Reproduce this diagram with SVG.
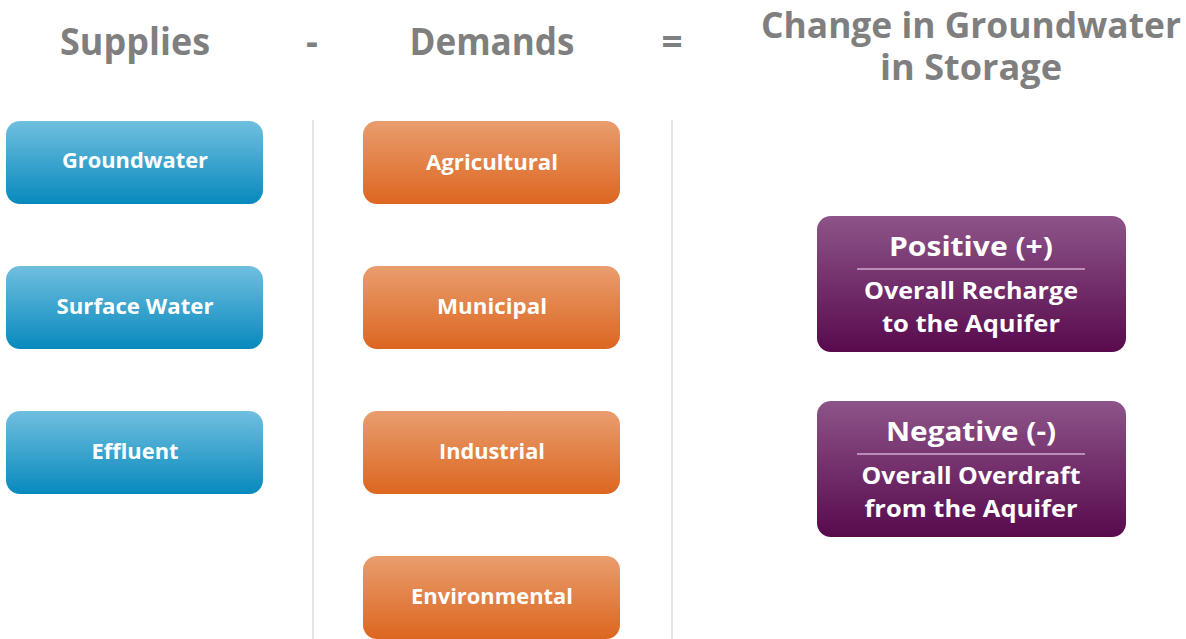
<svg xmlns="http://www.w3.org/2000/svg" width="1186" height="639" viewBox="0 0 1186 639">
<defs>
<linearGradient id="gBlue" x1="0" y1="0" x2="0" y2="1"><stop offset="0" stop-color="#70bfdf"/><stop offset="1" stop-color="#0789bd"/></linearGradient>
<linearGradient id="gOrange" x1="0" y1="0" x2="0" y2="1"><stop offset="0" stop-color="#e99d6e"/><stop offset="1" stop-color="#dc6620"/></linearGradient>
<linearGradient id="gPurple" x1="0" y1="0" x2="0" y2="1"><stop offset="0" stop-color="#8d5489"/><stop offset="1" stop-color="#580a4d"/></linearGradient>
</defs>
<style>
.hdr{font-family:"Open Sans","Liberation Sans",sans-serif;font-weight:bold;fill:#7f7f7f;text-anchor:middle}
.lbl{font-family:"Open Sans","Liberation Sans",sans-serif;font-weight:bold;fill:#ffffff;text-anchor:middle;font-size:21px}
.big{font-family:"Open Sans","Liberation Sans",sans-serif;font-weight:bold;fill:#ffffff;text-anchor:middle;font-size:26px}
.sub{font-family:"Open Sans","Liberation Sans",sans-serif;font-weight:bold;fill:#ffffff;text-anchor:middle;font-size:24px}
.blue{fill:url(#gBlue)}
.orange{fill:url(#gOrange)}
.purple{fill:url(#gPurple)}
.div{stroke:#e6e6e6;stroke-width:2}
</style>
<rect width="1186" height="639" fill="#ffffff"/>
<g id="headers">
<text class="hdr" x="135" y="55" font-size="37" textLength="150" lengthAdjust="spacingAndGlyphs">Supplies</text>
<text class="hdr" x="312" y="55" font-size="37">-</text>
<text class="hdr" x="492" y="55" font-size="37" textLength="165" lengthAdjust="spacingAndGlyphs">Demands</text>
<text class="hdr" x="672" y="55" font-size="37">=</text>
<text class="hdr" x="971" y="38" font-size="36" textLength="420" lengthAdjust="spacingAndGlyphs">Change in Groundwater</text>
<text class="hdr" x="971" y="80" font-size="36" textLength="182" lengthAdjust="spacingAndGlyphs">in Storage</text>
</g>
<g id="dividers">
<line class="div" x1="313" y1="120" x2="313" y2="639"/>
<line class="div" x1="672" y1="120" x2="672" y2="639"/>
</g>
<g id="supply-groundwater"><rect class="blue" x="6" y="121" width="257" height="83" rx="14"/><text class="lbl" x="135" y="168" textLength="146" lengthAdjust="spacingAndGlyphs">Groundwater</text></g>
<g id="supply-surface"><rect class="blue" x="6" y="266" width="257" height="83" rx="14"/><text class="lbl" x="135" y="314" textLength="157" lengthAdjust="spacingAndGlyphs">Surface Water</text></g>
<g id="supply-effluent"><rect class="blue" x="6" y="411" width="257" height="83" rx="14"/><text class="lbl" x="135" y="459" textLength="87" lengthAdjust="spacingAndGlyphs">Effluent</text></g>
<g id="demand-agricultural"><rect class="orange" x="363" y="121" width="257" height="83" rx="14"/><text class="lbl" x="492" y="170" textLength="132" lengthAdjust="spacingAndGlyphs">Agricultural</text></g>
<g id="demand-municipal"><rect class="orange" x="363" y="266" width="257" height="83" rx="14"/><text class="lbl" x="492" y="314" textLength="110" lengthAdjust="spacingAndGlyphs">Municipal</text></g>
<g id="demand-industrial"><rect class="orange" x="363" y="411" width="257" height="83" rx="14"/><text class="lbl" x="492" y="459" textLength="106" lengthAdjust="spacingAndGlyphs">Industrial</text></g>
<g id="demand-environmental"><rect class="orange" x="363" y="556" width="257" height="83" rx="14"/><text class="lbl" x="492" y="604" textLength="162" lengthAdjust="spacingAndGlyphs">Environmental</text></g>
<g id="positive"><rect class="purple" x="817" y="216" width="309" height="136" rx="14"/>
<text class="big" x="971" y="256" textLength="164" lengthAdjust="spacingAndGlyphs">Positive (+)</text>
<line x1="857" y1="269" x2="1085" y2="269" stroke="#b98db5" stroke-width="2"/>
<text class="sub" x="971" y="299" textLength="214" lengthAdjust="spacingAndGlyphs">Overall Recharge</text>
<text class="sub" x="971" y="332" textLength="178" lengthAdjust="spacingAndGlyphs">to the Aquifer</text></g>
<g id="negative"><rect class="purple" x="817" y="401" width="309" height="136" rx="14"/>
<text class="big" x="971" y="441" textLength="170" lengthAdjust="spacingAndGlyphs">Negative (-)</text>
<line x1="857" y1="454" x2="1085" y2="454" stroke="#b98db5" stroke-width="2"/>
<text class="sub" x="971" y="484" textLength="219" lengthAdjust="spacingAndGlyphs">Overall Overdraft</text>
<text class="sub" x="971" y="517" textLength="213" lengthAdjust="spacingAndGlyphs">from the Aquifer</text></g>
</svg>
